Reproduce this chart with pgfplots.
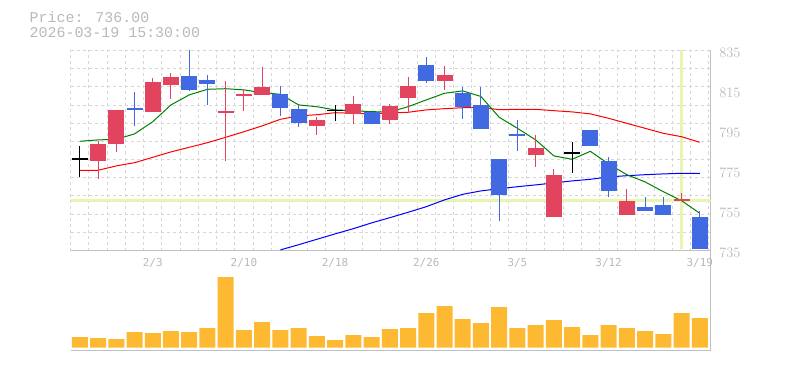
\documentclass[border=0pt]{standalone}
\usepackage{fontspec}
\usepackage{pgfplots}
\usepackage{pgfplotstable}
\pgfplotsset{compat=1.18}
\newfontfamily\monoA{Liberation Mono}
\newfontfamily\monoB{DejaVu Sans Mono}
\definecolor{candlered}{RGB}{226,68,96}
\definecolor{candleblue}{RGB}{65,105,225}
\definecolor{volorange}{RGB}{254,185,51}
\definecolor{limec}{RGB}{230,245,175}
\definecolor{gridgray}{RGB}{215,215,215}
\definecolor{axisgray}{RGB}{192,192,192}
\definecolor{labgray}{RGB}{185,185,185}
\definecolor{magreen}{RGB}{0,128,0}
\definecolor{mared}{RGB}{255,0,0}
\definecolor{mablue}{RGB}{0,0,255}

% up candles (red)
\pgfplotstableread{
i o h l c
1 780 790 771 788
2 788 805 784 805
4 804 821 804 819
5 818 824 811 822
8 804 820 780 805
9 812 816 805 813
10 813 827 813 817
13 797 802 793 800
15 803 812 798 808
17 800 808 798 807
18 811 822 804 817
20 820 827 815 823
25 783 793 777 786
26 752 776 752 773
30 753 766 753 760
33 760 764 760 761
}\upcandles
% down candles (blue)
\pgfplotstableread{
i o h l c
3 806 814 797 805
6 822 836 815 815
7 820 823 808 818
11 813 817 802 806
12 806 808 797 799
16 804 804 798 798
19 828 832 819 820
21 814 817 801 807
22 808 817 796 796
23 781 781 750 763
24 793 800 785 792
28 795 795 787 787
29 780 782 762 765
31 757 762 755 755
32 758 762 753 753
34 752 755 736 736
}\downcandles
% unchanged (black cross)
\pgfplotstableread{
i o h l c
0 781 787 772 781
14 805 808 800 805
27 784 789 774 784
}\flatcandles

\pgfplotsset{
  candle/.style n args={2}{draw=none, mark=none, forget plot,
    error bars/.cd, y dir=both, y explicit, error mark=none,
    error bar style={draw=#1, solid, line width=#2}},
}

\begin{document}
\begin{tikzpicture}[x=1bp,y=1bp]
\path[use as bounding box] (0,0) rectangle (785,370);

\node[anchor=base west, inner sep=0pt, text=labgray, font=\monoA\fontsize{15}{18}\selectfont] at (29.5,347.3) {Price: 736.00};
\node[anchor=base west, inner sep=0pt, text=labgray, font=\monoA\fontsize{15}{18}\selectfont] at (29.5,332.3) {2026-03-19 15:30:00};

% price panel
\begin{axis}[
  at={(70.7bp,119.5bp)}, anchor=south west,
  width=640bp, height=200bp, scale only axis,
  xmin=-0.5, xmax=34.6, ymin=735, ymax=835,
  axis x line*=bottom, axis y line*=right,
  axis line style={draw=axisgray, line width=1bp, -},
  xtick={4,9,14,19,24,29,34},
  xticklabels={2/3,2/10,2/18,2/26,3/5,3/12,3/19},
  minor xtick={-0.5,0.5,...,34.5},
  ytick={735,755,775,795,815,835},
  minor ytick={744.0909,753.1818,762.2727,771.3636,780.4545,789.5455,798.6364,807.7273,816.8182,825.9091,835},
  xminorgrids=true, yminorgrids=true,
  xmajorgrids=false, ymajorgrids=false,
  minor grid style={draw=gridgray, dash pattern=on 3bp off 3bp, line width=1bp},
  major tick length=0pt, minor tick length=0pt,
  tick style={draw=none},
  yticklabel style={font=\monoA\fontsize{15}{18}\selectfont, text=labgray, anchor=west, inner sep=0pt, xshift=8.5bp, yshift=-2bp},
  xticklabel style={font=\monoB\fontsize{11}{13}\selectfont, text=labgray, anchor=center, inner sep=0pt, yshift=-12bp},
]
% crosshair
\addplot[limec, line width=3bp, mark=none] coordinates {(-0.5,760.1) (34.6,760.1)};
\addplot[limec, line width=3bp, mark=none] coordinates {(33,736) (33,835)};
% moving averages
\addplot[mablue, line width=1bp, mark=none] coordinates {
(11,735.3) (12,737.9) (13,740.6) (14,743.3) (15,745.9) (16,748.8) (17,751.4) (18,754.1) (19,756.9) (20,760.3) (21,763.1) (22,764.8) (23,765.9) (24,766.9) (25,767.8) (26,768.8) (27,769.8) (28,770.6) (29,771.8) (30,772.4) (31,772.9) (32,773.3) (33,773.6) (34,773.6)};
\addplot[mared, line width=1bp, mark=none] coordinates {
(0,775.1) (1,775.1) (2,777.3) (3,778.9) (4,781.6) (5,784.3) (6,786.6) (7,788.9) (8,791.6) (9,794.4) (10,797.3) (11,800.6) (12,802.3) (13,802.9) (14,803.9) (15,803.6) (16,803.3) (17,803.8) (18,804.1) (19,805.3) (20,805.9) (21,806.4) (22,806.6) (23,805.4) (24,805.6) (25,805.6) (26,804.9) (27,804.3) (28,803.3) (29,801.1) (30,798.6) (31,796.1) (32,793.6) (33,791.9) (34,789.1)};
\addplot[magreen, line width=1bp, mark=none] coordinates {
(0,789.6) (1,790.3) (2,790.6) (3,793.3) (4,799.4) (5,807.8) (6,812.8) (7,815.6) (8,815.9) (9,815.3) (10,813.9) (11,813.1) (12,807.8) (13,806.9) (14,805.3) (15,804.9) (16,804.4) (17,804.3) (18,806.9) (19,810.3) (20,813.6) (21,814.8) (22,812.0) (23,801.6) (24,796.1) (25,790.3) (26,782.3) (27,780.6) (28,784.6) (29,778.3) (30,772.9) (31,769.3) (32,764.4) (33,759.9) (34,753.6)};
% wicks
\addplot[candle={candlered}{1bp}]
  table[x=i, y expr={(\thisrow{h}+\thisrow{l})/2}, y error expr={(\thisrow{h}-\thisrow{l})/2}] {\upcandles};
\addplot[candle={candleblue}{1bp}]
  table[x=i, y expr={(\thisrow{h}+\thisrow{l})/2}, y error expr={(\thisrow{h}-\thisrow{l})/2}] {\downcandles};
\addplot[candle={black}{1bp}]
  table[x=i, y expr={(\thisrow{h}+\thisrow{l})/2}, y error expr={(\thisrow{h}-\thisrow{l})/2}] {\flatcandles};
% bodies
\addplot[candle={candlered}{16bp}]
  table[x=i, y expr={(\thisrow{o}+\thisrow{c})/2}, y error expr={abs(\thisrow{c}-\thisrow{o})/2}] {\upcandles};
\addplot[candle={candleblue}{16bp}]
  table[x=i, y expr={(\thisrow{o}+\thisrow{c})/2}, y error expr={abs(\thisrow{c}-\thisrow{o})/2}] {\downcandles};
\addplot[candle={black}{16bp}]
  table[x=i, y expr={\thisrow{o}}, y error expr={0.25}] {\flatcandles};
\end{axis}

% volume panel
\begin{axis}[
  at={(70.7bp,20bp)}, anchor=south west,
  width=640bp, height=100bp, scale only axis,
  xmin=-0.5, xmax=34.6, ymin=-2300, ymax=97700,
  axis x line*=bottom, axis y line*=right,
  axis line style={draw=axisgray, line width=1bp, -},
  xtick=\empty, ytick=\empty,
  minor xtick={-0.5,0.5,...,34.5},
  xminorgrids=true,
  minor grid style={draw=gridgray, dash pattern=on 3bp off 3bp, line width=1bp},
  major tick length=0pt, minor tick length=0pt,
  tick style={draw=none},
  scaled y ticks=false,
]
\addplot[ybar, bar width=16bp, bar shift=0pt, fill=volorange, draw=none] coordinates {
(0,10700) (1,9700) (2,8700) (3,15700) (4,14700) (5,16700) (6,15700) (7,19700) (8,70700) (9,17700)
(10,25700) (11,17700) (12,19700) (13,11700) (14,7700) (15,12700) (16,10700) (17,18700) (18,19700) (19,34700)
(20,41700) (21,28700) (22,24700) (23,40700) (24,19700) (25,22700) (26,27700) (27,20700) (28,12700) (29,22700)
(30,19700) (31,16700) (32,13700) (33,34700) (34,29700)};
\end{axis}
\end{tikzpicture}
\end{document}
